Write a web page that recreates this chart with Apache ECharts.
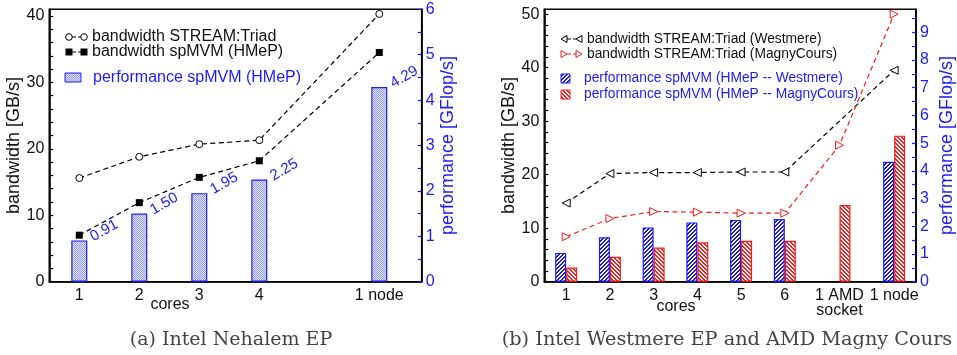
<!DOCTYPE html>
<html><head><meta charset="utf-8">
<script src="https://cdn.jsdelivr.net/npm/echarts@6/dist/echarts.min.js"></script>
<style>html,body{margin:0;padding:0;background:#fff}#c{width:957px;height:355px}</style>
</head><body><div id="c"></div>
<script>
// ---------- data: (a) Intel Nehalem EP ----------
const nehPos = [1, 2, 3, 4, 6];
const nehLabels = ['1', '2', '3', '4', '1 node'];
const nehTriad = [15.6, 18.8, 20.7, 21.3, 40.3];        // GB/s
const nehSpmvmBw = [7.0, 11.9, 15.7, 18.2, 34.5];       // GB/s
const nehPerf = [0.91, 1.50, 1.95, 2.25, 4.29];         // GFlop/s

// ---------- data: (b) Westmere EP / Magny Cours ----------
const wmPos = [1, 2, 3, 4, 5, 6, 8.5];
const mcPos = [1, 2, 3, 4, 5, 6, 7.25, 8.5];
const bLabelPos = [1, 2, 3, 4, 5, 6, 7.25, 8.5];
const bLabels = ['1', '2', '3', '4', '5', '6', '1 AMD\nsocket', '1 node'];
const wmTriad = [14.7, 20.2, 20.4, 20.4, 20.5, 20.5, 39.5];
const mcTriad = [8.4, 11.8, 13.1, 13.0, 12.8, 12.8, 25.5, 50.0];
const wmPerf = [1.04, 1.60, 1.96, 2.14, 2.23, 2.26, 4.33];
const mcPerf = [0.51, 0.90, 1.23, 1.42, 1.48, 1.48, 2.77, 5.27];

// tick values
const aLeftTicks = [0,2,4,6,8,10,12,14,16,18,20,22,24,26,28,30,32,34,36,38,40];
const aLeftLabels = [0,10,20,30,40];
const aRightTicks = [0,0.5,1,1.5,2,2.5,3,3.5,4,4.5,5,5.5,6];
const aRightLabels = [0,1,2,3,4,5,6];
const bLeftTicks = [0,2,4,6,8,10,12,14,16,18,20,22,24,26,28,30,32,34,36,38,40,42,44,46,48,50];
const bLeftLabels = [0,10,20,30,40,50];
const bRightTicks = [0,0.5,1,1.5,2,2.5,3,3.5,4,4.5,5,5.5,6,6.5,7,7.5,8,8.5,9,9.5];
const bRightLabels = [0,1,2,3,4,5,6,7,8,9];

const zip = (xs, ys) => ys.map((y, i) => [xs[i], y]);

// ---------- fill patterns ----------
function makeCanvas(w, h, fn) {
  const c = document.createElement('canvas'); c.width = w; c.height = h;
  const ctx = c.getContext('2d'); const img = ctx.createImageData(w, h);
  for (let y = 0; y < h; y++) for (let x = 0; x < w; x++) {
    const col = fn(x, y); const k = (y * w + x) * 4;
    img.data[k] = col[0]; img.data[k+1] = col[1]; img.data[k+2] = col[2]; img.data[k+3] = 255;
  }
  ctx.putImageData(img, 0, 0); return c;
}
const dotCanvas = makeCanvas(2, 2, (x, y) => ((x + y) % 2 === 0) ? [150, 160, 242] : [222, 225, 252]);
const blueHatch = makeCanvas(4, 4, (x, y) => ((x + y) % 4 < 2) ? [24, 24, 240] : [255, 255, 255]);
const redHatch = makeCanvas(4, 4, (x, y) => (((x - y) % 4 + 4) % 4 < 2) ? [250, 30, 30] : [255, 255, 255]);
const pat = (c) => ({ image: c, repeat: 'repeat' });

const FONT = 'Liberation Sans';
const BLUE = '#1c1cf5';
const RED = '#f41c1c';
const TXT = '#111';
const LEGA = '16px "Liberation Sans"';
const LEGB = '13.8px "Liberation Sans"';

function yAxisCfg(grid, max, ticks, labels, right, name, nameGap) {
  return {
    type: 'value', gridIndex: grid, min: 0, max: max, position: right ? 'right' : 'left',
    name: name, nameLocation: 'middle', nameGap: nameGap, nameRotate: 90,
    nameTextStyle: { fontFamily: FONT, fontSize: 18, color: right ? BLUE : TXT },
    splitLine: { show: false },
    axisLine: { show: true, lineStyle: { color: '#000', width: 1.6 } },
    axisTick: { show: true, inside: true, length: 4, customValues: ticks,
      lineStyle: { color: right ? BLUE : '#000', width: 1.2 } },
    axisLabel: { customValues: labels, margin: right ? 4 : 5, fontFamily: FONT, fontSize: 16,
      color: right ? BLUE : TXT }
  };
}
function xAxisCfg(grid, min, max, pos, labels) {
  return {
    type: 'value', gridIndex: grid, min: min, max: max,
    splitLine: { show: false },
    axisLine: { show: true, onZero: false, lineStyle: { color: '#000', width: 1.6 } },
    axisTick: { show: false },
    axisLabel: { customValues: pos, margin: 6, fontFamily: FONT, fontSize: 16, color: TXT, lineHeight: 15,
      formatter: (v) => { const i = pos.findIndex(p => Math.abs(p - v) < 1e-6); return i >= 0 ? labels[i] : ''; } }
  };
}

const dash = { type: [5, 3.5], width: 1.2 };

const option = {
  animation: false,
  backgroundColor: '#fff',
  grid: [
    { left: 49.3, right: 957 - 421.7, top: 9.3, bottom: 355 - 281.7, show: true, borderColor: '#000', borderWidth: 1.6, backgroundColor: 'transparent' },
    { left: 544.3, right: 957 - 916.7, top: 9.3, bottom: 355 - 281.7, show: true, borderColor: '#000', borderWidth: 1.6, backgroundColor: 'transparent' }
  ],
  xAxis: [
    xAxisCfg(0, 0.5, 6.707, nehPos, nehLabels),
    xAxisCfg(1, 0.5, 9.0, bLabelPos, bLabels)
  ],
  yAxis: [
    yAxisCfg(0, 41.0, aLeftTicks, aLeftLabels, false, 'bandwidth [GB/s]', 23),
    yAxisCfg(0, 6, aRightTicks, aRightLabels, true, 'performance [GFlop/s]', 17),
    yAxisCfg(1, 50.9, bLeftTicks, bLeftLabels, false, 'bandwidth [GB/s]', 20),
    yAxisCfg(1, 9.83, bRightTicks, bRightLabels, true, 'performance [GFlop/s]', 22)
  ],
  series: [
    { name: 'performance spMVM (HMeP)', type: 'bar', xAxisIndex: 0, yAxisIndex: 1, barWidth: 16,
      data: zip(nehPos, nehPerf), z: 2,
      itemStyle: { color: pat(dotCanvas), borderColor: BLUE, borderWidth: 1.2 },
      label: { show: true, position: [24, 4], rotate: 30, align: 'left', verticalAlign: 'bottom',
        fontFamily: FONT, fontSize: 15, color: BLUE, formatter: (p) => p.value[1].toFixed(2) } },
    { name: 'bandwidth STREAM:Triad', type: 'line', xAxisIndex: 0, yAxisIndex: 0, z: 5,
      data: zip(nehPos, nehTriad), symbol: 'circle', symbolSize: 7, showAllSymbol: true,
      itemStyle: { color: '#fff', borderColor: '#000', borderWidth: 1 }, lineStyle: Object.assign({ color: '#000' }, dash) },
    { name: 'bandwidth spMVM (HMeP)', type: 'line', xAxisIndex: 0, yAxisIndex: 0, z: 5,
      data: zip(nehPos, nehSpmvmBw), symbol: 'rect', symbolSize: 7,
      itemStyle: { color: '#000' }, lineStyle: Object.assign({ color: '#000' }, dash) },

    { name: 'performance spMVM (HMeP -- Westmere)', type: 'bar', xAxisIndex: 1, yAxisIndex: 3, barWidth: 11, barGap: '0%',
      data: zip(wmPos, wmPerf), z: 2,
      itemStyle: { color: pat(blueHatch), borderColor: BLUE, borderWidth: 1.2 } },
    { name: 'performance spMVM (HMeP -- MagnyCours)', type: 'bar', xAxisIndex: 1, yAxisIndex: 3, barWidth: 11, barGap: '0%',
      data: zip(mcPos, mcPerf), z: 2,
      itemStyle: { color: pat(redHatch), borderColor: RED, borderWidth: 1.2 } },
    { name: 'bandwidth STREAM:Triad (Westmere)', type: 'line', xAxisIndex: 1, yAxisIndex: 2, z: 5,
      data: zip(wmPos, wmTriad), symbol: 'triangle', symbolRotate: 90, symbolSize: [8, 8],
      itemStyle: { color: '#fff', borderColor: '#000', borderWidth: 1 }, lineStyle: Object.assign({ color: '#000' }, dash) },
    { name: 'bandwidth STREAM:Triad (MagnyCours)', type: 'line', xAxisIndex: 1, yAxisIndex: 2, z: 5,
      data: zip(mcPos, mcTriad), symbol: 'triangle', symbolRotate: -90, symbolSize: [8, 8],
      itemStyle: { color: '#fff', borderColor: RED, borderWidth: 1 }, lineStyle: Object.assign({ color: RED }, dash) }
  ],
  graphic: [
    // legend (a)
    { type: 'line', shape: { x1: 72, y1: 37, x2: 81, y2: 37 }, style: { stroke: '#000', lineWidth: 1.2, lineDash: [4, 2] } },
    { type: 'circle', shape: { cx: 69, cy: 37, r: 3.3 }, style: { fill: '#fff', stroke: '#000', lineWidth: 1 } },
    { type: 'circle', shape: { cx: 84, cy: 37, r: 3.3 }, style: { fill: '#fff', stroke: '#000', lineWidth: 1 } },
    { type: 'text', x: 92, y: 37, style: { text: 'bandwidth STREAM:Triad', font: LEGA, fill: TXT, verticalAlign: 'middle' } },
    { type: 'line', shape: { x1: 72, y1: 52, x2: 81, y2: 52 }, style: { stroke: '#000', lineWidth: 1.2, lineDash: [4, 2] } },
    { type: 'rect', shape: { x: 65.5, y: 48.5, width: 7, height: 7 }, style: { fill: '#000' } },
    { type: 'rect', shape: { x: 80.5, y: 48.5, width: 7, height: 7 }, style: { fill: '#000' } },
    { type: 'text', x: 92, y: 52, style: { text: 'bandwidth spMVM (HMeP)', font: LEGA, fill: TXT, verticalAlign: 'middle' } },
    { type: 'rect', shape: { x: 65, y: 73, width: 16, height: 9 }, style: { fill: pat(dotCanvas), stroke: BLUE, lineWidth: 1 } },
    { type: 'text', x: 93, y: 78, style: { text: 'performance spMVM (HMeP)', font: LEGA, fill: BLUE, verticalAlign: 'middle' } },
    // legend (b)
    { type: 'line', shape: { x1: 567, y1: 39, x2: 576, y2: 39 }, style: { stroke: '#000', lineWidth: 1.2, lineDash: [4, 2] } },
    { type: 'polygon', shape: { points: [[561, 39], [567, 35.5], [567, 42.5]] }, style: { fill: '#fff', stroke: '#000', lineWidth: 1 } },
    { type: 'polygon', shape: { points: [[576, 39], [582, 35.5], [582, 42.5]] }, style: { fill: '#fff', stroke: '#000', lineWidth: 1 } },
    { type: 'text', x: 587, y: 39, style: { text: 'bandwidth STREAM:Triad (Westmere)', font: LEGB, fill: TXT, verticalAlign: 'middle' } },
    { type: 'line', shape: { x1: 567, y1: 54, x2: 576, y2: 54 }, style: { stroke: RED, lineWidth: 1.2, lineDash: [4, 2] } },
    { type: 'polygon', shape: { points: [[567, 54], [561, 50.5], [561, 57.5]] }, style: { fill: '#fff', stroke: RED, lineWidth: 1 } },
    { type: 'polygon', shape: { points: [[582, 54], [576, 50.5], [576, 57.5]] }, style: { fill: '#fff', stroke: RED, lineWidth: 1 } },
    { type: 'text', x: 587, y: 54, style: { text: 'bandwidth STREAM:Triad (MagnyCours)', font: LEGB, fill: TXT, verticalAlign: 'middle' } },
    { type: 'rect', shape: { x: 561, y: 74, width: 9, height: 9 }, style: { fill: pat(blueHatch), stroke: BLUE, lineWidth: 1 } },
    { type: 'text', x: 584, y: 78, style: { text: 'performance spMVM (HMeP -- Westmere)', font: LEGB, fill: BLUE, verticalAlign: 'middle' } },
    { type: 'rect', shape: { x: 561, y: 90, width: 9, height: 9 }, style: { fill: pat(redHatch), stroke: RED, lineWidth: 1 } },
    { type: 'text', x: 584, y: 94, style: { text: 'performance spMVM (HMeP -- MagnyCours)', font: LEGB, fill: BLUE, verticalAlign: 'middle' } },
    // axis titles "cores"
    { type: 'text', x: 170, y: 305, style: { text: 'cores', font: '16px "Liberation Sans"', fill: TXT, align: 'center', verticalAlign: 'middle' } },
    { type: 'text', x: 676, y: 307, style: { text: 'cores', font: '16px "Liberation Sans"', fill: TXT, align: 'center', verticalAlign: 'middle' } },
    // captions
    { type: 'text', x: 231, y: 340, style: { text: '(a) Intel Nehalem EP', font: '19px "DejaVu Serif"', fill: '#444', align: 'center', verticalAlign: 'middle' } },
    { type: 'text', x: 727, y: 340, style: { text: '(b) Intel Westmere EP and AMD Magny Cours', font: '19.3px "DejaVu Serif"', fill: '#444', align: 'center', verticalAlign: 'middle' } }
  ]
};
const chart = echarts.init(document.getElementById('c'), null, { renderer: 'canvas' });
chart.setOption(option);
</script>
</body></html>
